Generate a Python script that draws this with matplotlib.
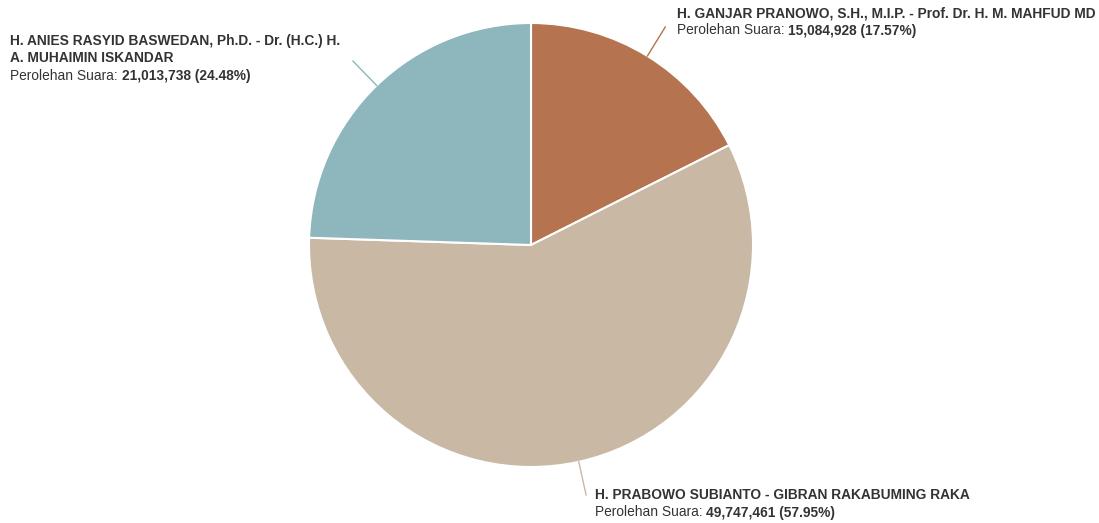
import numpy as np
import matplotlib
matplotlib.use("Agg")
import matplotlib.pyplot as plt

# data
names = [
    "H. GANJAR PRANOWO, S.H., M.I.P. - Prof. Dr. H. M. MAHFUD MD",
    "H. PRABOWO SUBIANTO - GIBRAN RAKABUMING RAKA",
    "H. ANIES RASYID BASWEDAN, Ph.D. - Dr. (H.C.) H.\nA. MUHAIMIN ISKANDAR",
]
votes = [15084928, 49747461, 21013738]
percents = ["17.57%", "57.95%", "24.48%"]
colors = ["#b5734f", "#c8b8a4", "#8db7bc"]

# label positions in pixels (x left, y top of first line)
label_pos = [(677, 6), (595, 488), (10, 34)]

W, H = 1099, 523
fig = plt.figure(figsize=(W / 100, H / 100), dpi=100)
ax = fig.add_axes([0, 0, 1, 1])

cx, cy, r = 531, H - 245, 222
wedges, _ = ax.pie(votes, colors=colors, startangle=90, counterclock=False,
                   center=(cx, cy), radius=r, frame=True,
                   wedgeprops=dict(edgecolor="white", linewidth=1.5))
ax.set_xlim(0, W)
ax.set_ylim(0, H)
ax.set_aspect("equal")
ax.axis("off")

# leader lines
for w, c in zip(wedges, colors):
    ang = np.deg2rad((w.theta1 + w.theta2) / 2)
    x0, y0 = cx + r * np.cos(ang), cy + r * np.sin(ang)
    x1, y1 = cx + (r + 34) * np.cos(ang), cy + (r + 34) * np.sin(ang)
    ax.plot([x0, x1], [y0, y1], color=c, lw=1)

font = "Liberation Sans"
fs = 9.9
lh = 17.5
renderer = fig.canvas.get_renderer()
for name, v, p, (lx, ly) in zip(names, votes, percents, label_pos):
    lines = name.split("\n")
    y = H - ly
    for ln in lines:
        ax.text(lx, y, ln, fontsize=fs, family=font, fontweight="bold",
                color="#333333", va="top", ha="left")
        y -= lh
    t = ax.text(lx, y, "Perolehan Suara: ", fontsize=fs, family=font,
                color="#333333", va="top", ha="left")
    bb = t.get_window_extent(renderer)
    ax.text(bb.x1, y, f"{v:,} ({p})", fontsize=fs, family=font,
            fontweight="bold", color="#333333", va="top", ha="left")

fig.savefig("out.png", dpi=100, facecolor="white")
